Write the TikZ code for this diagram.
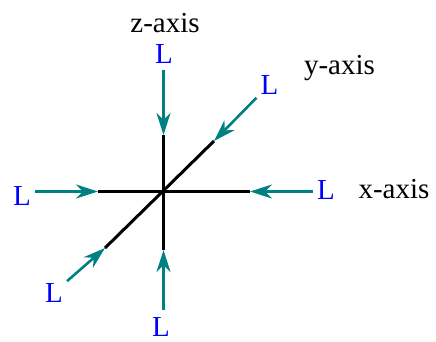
\documentclass[tikz,border=0pt]{standalone}
\usepackage{fontspec}
\setmainfont{Liberation Serif}
\usetikzlibrary{arrows.meta}

\begin{document}
\begin{tikzpicture}[x=1pt,y=-1pt,
    axis/.style={draw=black,line width=3pt},
    push/.style={draw=teal,line width=2.6pt,
      -{Stealth[length=22pt,width=14pt,inset=7pt]}},
    lbl/.style={text=blue,inner xsep=4pt,inner ysep=7pt,anchor=base},
    ttl/.style={text=black,inner sep=0pt,anchor=base},
    every node/.style={font=\fontsize{29}{34}\selectfont}]
  \useasboundingbox (0,0) rectangle (436,341);
  % ends of the three axes
  \coordinate (xl) at (98,191.5);
  \coordinate (xr) at (250,191.5);
  \coordinate (zt) at (163.5,135);
  \coordinate (zb) at (163.5,250);
  \coordinate (yb) at (105,248);
  \coordinate (yt) at (214,141);
  \draw[axis] (xl) -- (xr);
  \draw[axis] (zt) -- (zb);
  \draw[axis] (yb) -- (yt);
  % loads
  \node[lbl] (Lz1) at (164,63) {L};
  \node[lbl] (Lz2) at (161,336) {L};
  \node[lbl] (Lx1) at (22,205) {L};
  \node[lbl] (Lx2) at (326,199) {L};
  \node[lbl] (Ly1) at (269.5,94) {L};
  \node[lbl] (Ly2) at (54,302) {L};
  \draw[push] (Lz1.south -| zt) -- (zt);
  \draw[push] (Lz2.north -| zb) -- (zb);
  \draw[push] (Lx1.east |- xl) -- (xl);
  \draw[push] (Lx2.west |- xr) -- (xr);
  \draw[push] (Ly1) -- (yt);
  \draw[push] (Ly2) -- (yb);
  % axis names
  \node[ttl] (zname) at (165,32) {z-axis};
  \node[ttl] (yname) at (339.5,74) {y-axis};
  \node[ttl] (xname) at (394,198) {x-axis};
\end{tikzpicture}
\end{document}
